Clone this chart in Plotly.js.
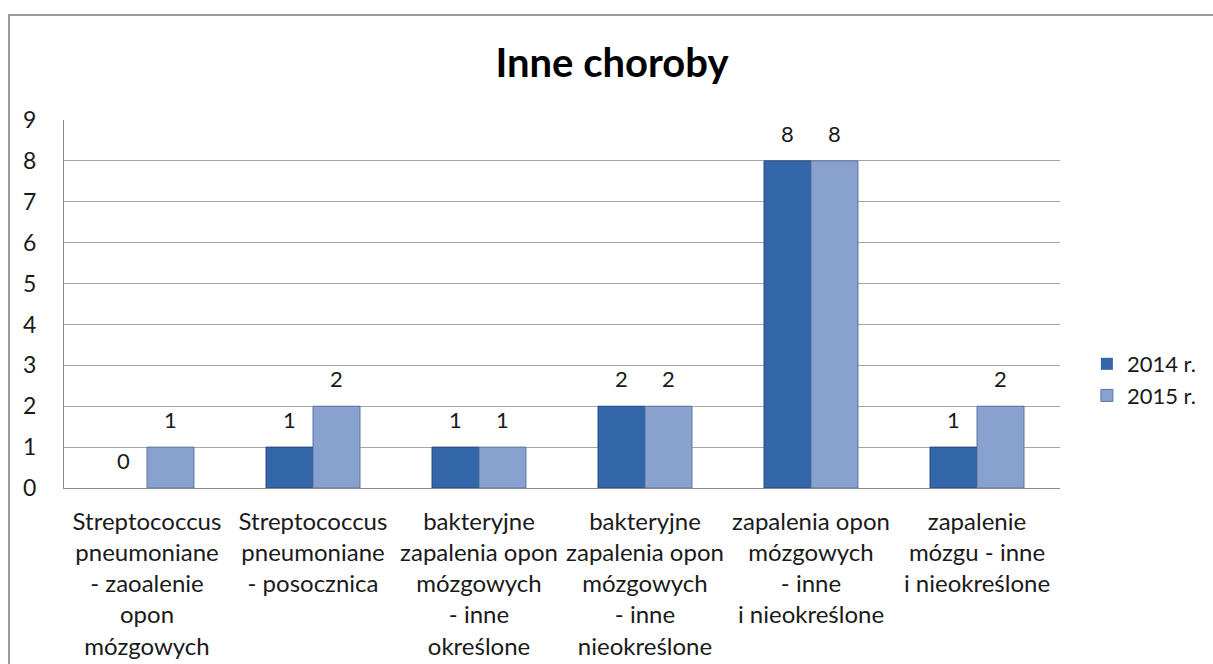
<!DOCTYPE html>
<html>
<head>
<meta charset="utf-8">
<script src="https://cdn.plot.ly/plotly-3.0.1.min.js"></script>
<style>
  html, body { margin: 0; padding: 0; background: #ffffff; }
  #frame { position: absolute; left: 8px; top: 14px; width: 1204px; height: 649px;
           border-left: 2px solid #9a9a9a; border-top: 2px solid #9a9a9a; }
  #chart { width: 1204px; height: 649px; }
</style>
</head>
<body>
<div id="frame"><div id="chart"></div></div>
<script>
const categories = [
  "Streptococcus<br>pneumoniane<br>- zaoalenie<br>opon<br>mózgowych",
  "Streptococcus<br>pneumoniane<br>- posocznica",
  "bakteryjne<br>zapalenia opon<br>mózgowych<br>- inne<br>określone",
  "bakteryjne<br>zapalenia opon<br>mózgowych<br>- inne<br>nieokreślone",
  "zapalenia opon<br>mózgowych<br>- inne<br>i nieokreślone",
  "zapalenie<br>mózgu - inne<br>i nieokreślone"
];
const seriesNames = ["2014 r.", "2015 r."];
const values2014 = [0, 1, 1, 2, 8, 1];
const values2015 = [1, 2, 1, 2, 8, 2];
const yTicks = [0, 1, 2, 3, 4, 5, 6, 7, 8, 9];

const FONT = "Lato, 'Open Sans', sans-serif";
const W = 1204, H = 649;
const margin = {l: 54, r: 150, t: 104, b: 177};
const bargap = 0.434;
const plotW = W - margin.l - margin.r;
const barW = plotW / categories.length * (1 - bargap) / 2;

const traces = [
  {
    type: "bar", name: seriesNames[0], x: categories, y: values2014,
    marker: {color: "#3466aa", line: {color: "#24497e", width: values2014.map(v => v === 0 ? 0 : 1)}},
    hoverinfo: "y"
  },
  {
    type: "bar", name: seriesNames[1], x: categories, y: values2015,
    marker: {color: "#88a1cf", line: {color: "#5b749f", width: values2015.map(v => v === 0 ? 0 : 1)}},
    hoverinfo: "y"
  }
];

const annotations = [];
[values2014, values2015].forEach((vals, si) => {
  vals.forEach((v, i) => {
    annotations.push({
      x: categories[i], y: v, xref: "x", yref: "y",
      text: String(v), showarrow: false,
      xshift: (si === 0 ? -1 : 1) * barW / 2,
      yanchor: "bottom", yshift: 12,
      font: {family: FONT, size: 22, color: "#1a1a1a"}
    });
  });
});

const layout = {
  width: W, height: H,
  margin: margin,
  paper_bgcolor: "#ffffff", plot_bgcolor: "#ffffff",
  barmode: "group", bargap: bargap, bargroupgap: 0,
  title: {
    text: "<b>Inne choroby</b>",
    font: {family: FONT, size: 40, color: "#000000"},
    x: 0.5, xref: "container", xanchor: "center",
    y: 1 - 47 / H, yref: "container", yanchor: "middle"
  },
  xaxis: {
    type: "category",
    showline: true, linecolor: "#8c8c8c", linewidth: 1,
    showgrid: false, ticks: "", ticklabelstandoff: 12,
    tickfont: {family: FONT, size: 24, color: "#1a1a1a"},
    fixedrange: true
  },
  yaxis: {
    range: [0, 9], tickvals: yTicks, ticktext: yTicks.map(String),
    showline: true, linecolor: "#8c8c8c", linewidth: 1,
    showgrid: true, gridcolor: "#a6a6a6", gridwidth: 1,
    zeroline: false, ticks: "", ticklabelstandoff: 22,
    tickfont: {family: FONT, size: 23, color: "#1a1a1a"},
    fixedrange: true
  },
  legend: {
    x: 1.027, xanchor: "left", y: 0.394, yanchor: "top",
    font: {family: FONT, size: 22, color: "#1a1a1a"},
    bgcolor: "rgba(0,0,0,0)", traceorder: "normal"
  },
  annotations: annotations,
  showlegend: true
};

Plotly.newPlot("chart", traces, layout, {displayModeBar: false, staticPlot: true});
</script>
</body>
</html>
